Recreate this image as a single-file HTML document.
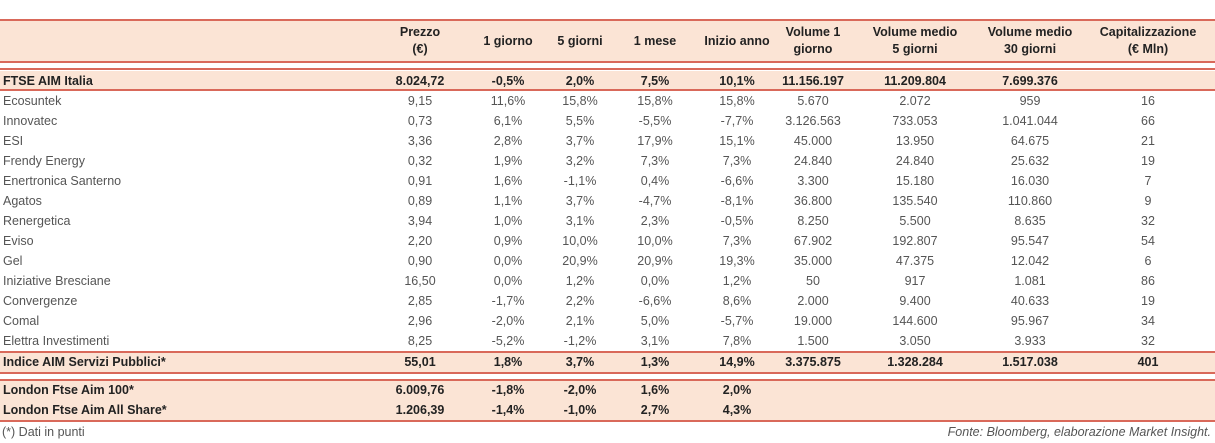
<!DOCTYPE html>
<html><head><meta charset="utf-8">
<style>
body{margin:0;width:1215px;height:443px;background:#fff;font-family:"Liberation Sans",sans-serif;position:relative;overflow:hidden}
.band{position:absolute;left:0;width:1215px;background:#fbe4d5}
.ln{position:absolute;left:0;width:1215px;height:2px;background:#d9695a}
.c{position:absolute;font-size:12.5px;color:#555;white-space:nowrap;transform:translateX(-50%);line-height:14px}
.l{position:absolute;font-size:12.5px;color:#555;white-space:nowrap;line-height:14px;left:3px}
.b{font-weight:bold;color:#222}
.h{position:absolute;font-size:12.5px;font-weight:bold;color:#222;text-align:center;transform:translateX(-50%);line-height:17px;white-space:nowrap}
</style></head><body>
<div class="band" style="top:21px;height:41px"></div>
<div class="band" style="top:71px;height:19px"></div>
<div class="band" style="top:353px;height:19px"></div>
<div class="band" style="top:381px;height:40px"></div>
<div class="ln" style="top:19px"></div><div class="ln" style="top:61px"></div>
<div class="ln" style="top:68px"></div><div class="ln" style="top:89px"></div>
<div class="ln" style="top:351px"></div><div class="ln" style="top:372px"></div>
<div class="ln" style="top:379px"></div><div class="ln" style="top:420px"></div>
<div id="t"></div>
<div class="l" style="top:425px;left:2px;font-size:12.5px">(*) Dati in punti</div>
<div class="l" style="top:425px;left:auto;right:4px;font-style:italic">Fonte: Bloomberg, elaborazione Market Insight.</div>
<script>
const cols=[420,508,580,655,737,813,915,1030,1148];
const headers=["Prezzo<br>(€)","1 giorno","5 giorni","1 mese","Inizio anno","Volume 1<br>giorno","Volume medio<br>5 giorni","Volume medio<br>30 giorni","Capitalizzazione<br>(€ Mln)"];
const rows=[
["FTSE AIM Italia","8.024,72","-0,5%","2,0%","7,5%","10,1%","11.156.197","11.209.804","7.699.376",""],
["Ecosuntek","9,15","11,6%","15,8%","15,8%","15,8%","5.670","2.072","959","16"],
["Innovatec","0,73","6,1%","5,5%","-5,5%","-7,7%","3.126.563","733.053","1.041.044","66"],
["ESI","3,36","2,8%","3,7%","17,9%","15,1%","45.000","13.950","64.675","21"],
["Frendy Energy","0,32","1,9%","3,2%","7,3%","7,3%","24.840","24.840","25.632","19"],
["Enertronica Santerno","0,91","1,6%","-1,1%","0,4%","-6,6%","3.300","15.180","16.030","7"],
["Agatos","0,89","1,1%","3,7%","-4,7%","-8,1%","36.800","135.540","110.860","9"],
["Renergetica","3,94","1,0%","3,1%","2,3%","-0,5%","8.250","5.500","8.635","32"],
["Eviso","2,20","0,9%","10,0%","10,0%","7,3%","67.902","192.807","95.547","54"],
["Gel","0,90","0,0%","20,9%","20,9%","19,3%","35.000","47.375","12.042","6"],
["Iniziative Bresciane","16,50","0,0%","1,2%","0,0%","1,2%","50","917","1.081","86"],
["Convergenze","2,85","-1,7%","2,2%","-6,6%","8,6%","2.000","9.400","40.633","19"],
["Comal","2,96","-2,0%","2,1%","5,0%","-5,7%","19.000","144.600","95.967","34"],
["Elettra Investimenti","8,25","-5,2%","-1,2%","3,1%","7,8%","1.500","3.050","3.933","32"],
["Indice AIM Servizi Pubblici*","55,01","1,8%","3,7%","1,3%","14,9%","3.375.875","1.328.284","1.517.038","401"],
["London Ftse Aim 100*","6.009,76","-1,8%","-2,0%","1,6%","2,0%","","","",""],
["London Ftse Aim All Share*","1.206,39","-1,4%","-1,0%","2,7%","4,3%","","","",""]];
const rowY=[74,94,114,134,154,174,194,214,234,254,274,294,314,334,355,383,403];
const bold=[0,14,15,16];
const t=document.getElementById('t');
headers.forEach((h,i)=>{const d=document.createElement('div');d.className='h';d.innerHTML=h;
d.style.left=cols[i]+'px';d.style.top=(h.includes('<br>')?24:33)+'px';

t.appendChild(d);});
rows.forEach((r,ri)=>{const isB=bold.includes(ri);
r.forEach((v,ci)=>{if(!v)return;const d=document.createElement('div');
d.className=(ci==0?'l':'c')+(isB?' b':'');d.textContent=v;d.style.top=rowY[ri]+'px';
if(ci>0)d.style.left=cols[ci-1]+'px';

t.appendChild(d);});});
</script>
</body></html>
